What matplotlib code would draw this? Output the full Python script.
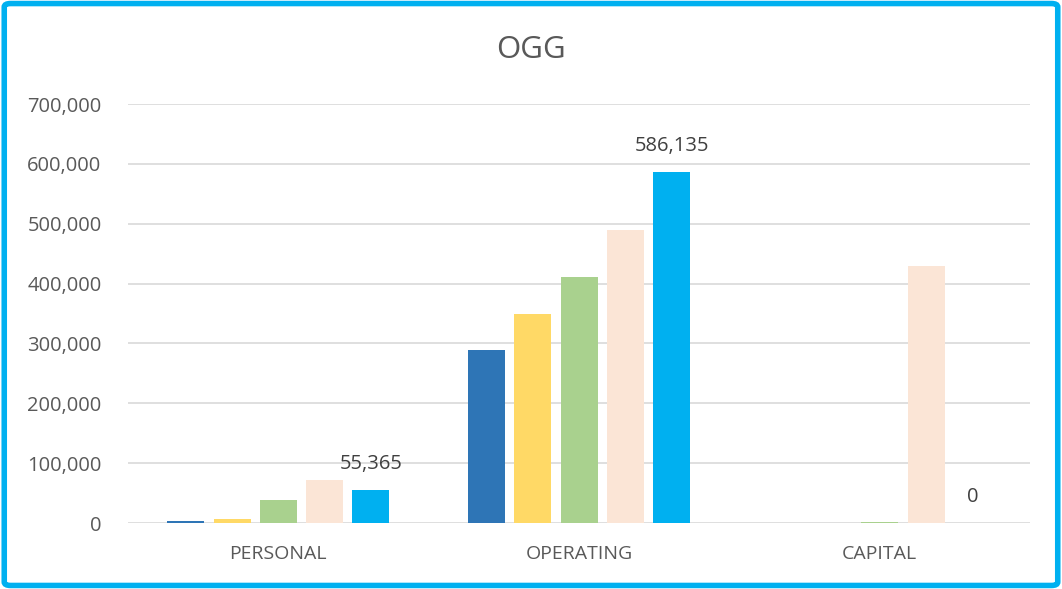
import matplotlib
matplotlib.use('Agg')
import matplotlib.pyplot as plt
from matplotlib.patches import FancyBboxPatch
import numpy as np

categories = ["PERSONAL", "OPERATING", "CAPITAL"]
series_a = [3300, 289000, 0]
series_b = [6700, 349000, 0]
series_c = [38400, 411000, 1500]
series_d = [71300, 489500, 429300]
series_e = [55365, 586135, 0]
colors = ['#2E75B6', '#FFD966', '#A9D18E', '#FBE5D6', '#00B0F0']

plt.rcParams['font.family'] = ['Open Sans', 'DejaVu Sans']

fig = plt.figure(figsize=(10.62, 5.89), dpi=100)
ax = fig.add_axes([0.1205, 0.112, 0.8495, 0.7114])

x = np.arange(len(categories))
step = 0.154
width = 0.123
all_series = [series_a, series_b, series_c, series_d, series_e]
for i, vals in enumerate(all_series):
    ax.bar(x + (i - 2) * step, vals, width, color=colors[i], zorder=3)

# data labels for the last series
for xi, v in zip(x, series_e):
    ax.annotate(f"{v:,}", (xi + 2 * step, v), xytext=(0, 19), textcoords='offset points',
                ha='center', va='center', fontsize=14.5, color='#404040')

ax.set_ylim(0, 700000)
ax.set_xlim(-0.5, 2.5)
ax.set_yticks(range(0, 700001, 100000))
ax.set_yticklabels([f"{t:,}" for t in range(0, 700001, 100000)])
ax.set_xticks(x)
ax.set_xticklabels(categories)
ax.tick_params(axis='y', length=0, labelsize=14.5, labelcolor='#595959', pad=19)
ax.tick_params(axis='x', length=0, labelsize=14, labelcolor='#595959', pad=16)
ax.grid(axis='y', color='#D9D9D9', linewidth=1.2, zorder=0)
for s in ax.spines.values():
    s.set_visible(False)

fig.text(0.5, 0.915, "OGG", ha='center', va='center', fontsize=22.5, color='#595959')

border = FancyBboxPatch((0.004, 0.006), 0.992, 0.988, boxstyle="round,pad=0,rounding_size=0.006",
                        transform=fig.transFigure, fill=False, edgecolor='#00B0F0', linewidth=4)
fig.patches.append(border)

fig.savefig("out.png", dpi=100)
